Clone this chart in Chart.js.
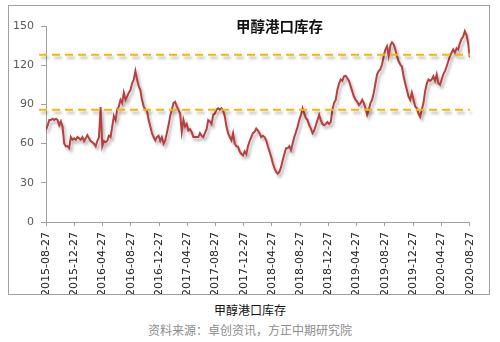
<!DOCTYPE html>
<html>
<head>
<meta charset="utf-8">
<script src="https://cdn.jsdelivr.net/npm/chart.js@4.4.1/dist/chart.umd.min.js"></script>
<style>
  body { margin: 0; background: #fff; width: 500px; height: 342px; position: relative; overflow: hidden; }
  #box { position: absolute; left: 8px; top: 5px; width: 482px; height: 290px; border: 1px solid #a0a0a0; box-sizing: border-box; }
  #wrap { position: absolute; left: 9px; top: 6px; width: 480px; height: 288px; }
  .txt { position: absolute; font-family: "Noto Sans CJK SC", sans-serif; white-space: nowrap; }
  #title { left: 236px; top: 15px; font-size: 14.5px; font-weight: bold; color: #111; line-height: 22px; }
  #legend { left: 0; width: 500px; text-align: center; top: 300px; font-size: 12px; color: #111; line-height: 20px; }
  #source { left: 0; width: 500px; text-align: center; top: 320px; font-size: 12px; color: #8c8c8c; line-height: 20px; }
</style>
</head>
<body>
<div id="box"></div>
<div id="wrap"><canvas id="chart" width="480" height="288"></canvas></div>
<div class="txt" id="title">甲醇港口库存</div>
<div class="txt" id="legend">甲醇港口库存</div>
<div class="txt" id="source">资料来源：卓创资讯，方正中期研究院</div>
<script>
// 甲醇港口库存, weekly, 2015-08-27 .. 2020-08-27
var startDate = '2015-08-27';
var endDate = '2020-08-27';
var stock = [
  70.5, 74, 78, 78, 79, 78, 79, 78, 74, 77,
  73, 60, 58, 58, 56.5, 65, 63, 64, 63, 65,
  64, 63, 65, 62, 64, 66.5, 64, 62, 61, 60,
  58, 62, 65, 88, 58, 62, 61, 62, 66, 65,
  73, 81, 78, 86, 88.5, 93.5, 91, 99, 93.5, 96,
  99, 101, 106, 109, 115.5, 109, 104, 101, 93.5, 88.5,
  86, 85, 78, 73, 68, 65, 62.5, 65, 66, 62,
  65, 60, 62.5, 68, 74, 81, 86, 91, 92, 88.5,
  86, 83, 69, 78, 73, 75, 70, 71, 69, 65,
  65, 65, 65, 68, 66, 65, 68, 71, 78, 77,
  75, 82, 83, 86, 87, 86, 87, 85, 81, 73,
  68, 65, 62.5, 68, 60, 58,
  57.5, 54, 52, 51, 54, 52, 58, 62, 65, 68,
  69, 71.5, 70, 68, 65, 66, 65, 62.5, 58, 54,
  50, 45, 41, 38.5, 37, 38.5, 42, 47.5, 52, 56.5,
  56.5, 58, 55, 60, 65, 69, 73, 78, 82, 87,
  83, 79.5, 78, 74, 71.5, 68, 70, 74, 78, 82,
  78, 75, 74, 75, 76.5, 75, 76.5, 86, 91, 93.5,
  101, 106, 109, 108, 111.5, 112, 110, 108, 104, 100,
  96, 93.5, 92, 89.5, 91, 93.5, 91, 87, 82, 86,
  91, 93.5, 99, 106, 113, 115.5, 117, 120.5, 127, 132,
  134.5, 127, 135, 137.5, 136, 132, 127, 123, 120.5, 119,
  111.5, 106, 101, 96, 93.5, 99, 93.5, 88.5, 87, 83,
  80.5, 86, 91, 100, 106, 109, 108, 109, 111.5, 108,
  113, 106, 105, 109, 113, 115.5, 119, 123, 127, 129.5,
  132, 129.5, 133, 132, 137, 140, 142, 146, 143, 137,
  126
];
var upperLevel = 128;
var lowerLevel = 86;
var tickLabels = ['2015-08-27', '2015-12-27', '2016-04-27', '2016-08-27', '2016-12-27',
  '2017-04-27', '2017-08-27', '2017-12-27', '2018-04-27', '2018-08-27', '2018-12-27',
  '2019-04-27', '2019-08-27', '2019-12-27', '2020-04-27', '2020-08-27'];
var yTicks = [0, 30, 60, 90, 120, 150];

function dayOf(s) {
  return (Date.parse(s) - Date.parse(startDate)) / 86400000;
}
var span = dayOf(endDate);
var stockPts = stock.map(function (v, i) { return { x: i * span / (stock.length - 1), y: v }; });
function levelPts(v) { return [{ x: -30, y: v }, { x: span, y: v }]; }

// Excel-like drop shadow under the lines
var shadow = {
  id: 'shadow',
  beforeDatasetDraw: function (chart) {
    var ctx = chart.ctx;
    ctx.save();
    ctx.shadowColor = 'rgba(0,0,0,0.3)';
    ctx.shadowBlur = 3;
    ctx.shadowOffsetX = 2;
    ctx.shadowOffsetY = 3;
  },
  afterDatasetDraw: function (chart) {
    chart.ctx.restore();
  }
};

var axisColor = '#a0a0a0';
var ctx = document.getElementById('chart');
var chart = new Chart(ctx, {
  type: 'line',
  data: {
    datasets: [
      { data: levelPts(upperLevel), borderColor: '#f5b800', borderWidth: 2, borderDash: [8, 5], pointRadius: 0, clip: false },
      { data: levelPts(lowerLevel), borderColor: '#f5b800', borderWidth: 2, borderDash: [8, 5], pointRadius: 0, clip: false },
      { data: stockPts, borderColor: '#b93f3f', borderWidth: 2, pointRadius: 0, tension: 0 }
    ]
  },
  options: {
    responsive: false,
    animation: false,
    layout: { padding: { top: 20, right: 16, left: 0, bottom: 0 } },
    plugins: {
      legend: { display: false },
      title: { display: false },
      tooltip: { enabled: false }
    },
    scales: {
      x: {
        type: 'linear',
        min: 0,
        max: span,
        afterBuildTicks: function (s) {
          s.ticks = tickLabels.map(function (t) { return { value: dayOf(t) }; });
        },
        afterFit: function (s) { s.height = 72; },
        ticks: {
          autoSkip: false,
          minRotation: 90,
          maxRotation: 90,
          padding: 6,
          color: '#222',
          font: { family: 'DejaVu Sans', size: 11 },
          callback: function (v, i) { return tickLabels[i]; }
        },
        grid: { drawOnChartArea: false, tickLength: 4, color: axisColor },
        border: { color: axisColor }
      },
      y: {
        min: 0,
        max: 150,
        afterBuildTicks: function (s) {
          s.ticks = yTicks.map(function (v) { return { value: v }; });
        },
        afterFit: function (s) { s.width = 37; },
        ticks: {
          padding: 7,
          color: '#595959',
          font: { family: 'DejaVu Sans', size: 11 }
        },
        grid: { drawOnChartArea: false, tickLength: 5, color: axisColor },
        border: { color: axisColor }
      }
    }
  },
  plugins: [shadow]
});
</script>
</body>
</html>
